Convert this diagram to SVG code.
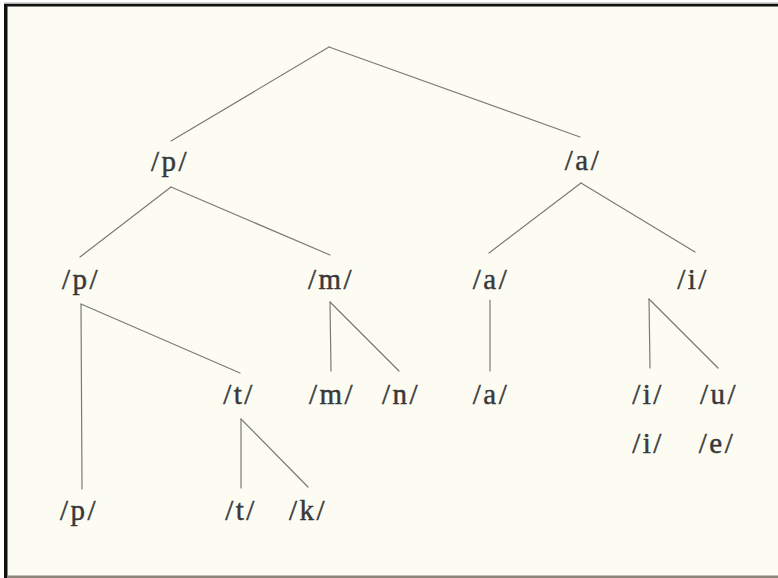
<svg xmlns="http://www.w3.org/2000/svg" width="778" height="578" viewBox="0 0 778 578">
  <style>
    .lbl { font-family: "Liberation Serif", "Times New Roman", serif; font-size: 29px; fill: #383838; stroke: #383838; stroke-width: 0.45; text-anchor: middle; letter-spacing: 2.5px; }
    .edge { stroke: #7a7a7a; stroke-width: 1.2; fill: none; stroke-linecap: round; }
  </style>
  <rect x="0" y="0" width="778" height="578" fill="#ffffff"/>
  <rect x="5" y="5" width="773" height="573" fill="#fcfcf3"/>
  <rect x="4" y="2.5" width="774" height="1.5" fill="#b0b0b0"/>
  <rect x="4" y="4" width="774" height="2.5" fill="#111111"/>
  <rect x="4" y="4" width="3.5" height="574" fill="#111111"/>
  <rect x="7" y="575.5" width="771" height="2.5" fill="#8c8478"/>

  <g id="connectors">
    <line class="edge" x1="329" y1="47" x2="171" y2="141"/>
    <line class="edge" x1="329" y1="47" x2="580" y2="137"/>
    <line class="edge" x1="171" y1="187" x2="80" y2="257"/>
    <line class="edge" x1="171" y1="187" x2="330" y2="255"/>
    <line class="edge" x1="581" y1="183" x2="489" y2="253"/>
    <line class="edge" x1="581" y1="183" x2="695" y2="252"/>
    <line class="edge" x1="81" y1="304" x2="82" y2="489"/>
    <line class="edge" x1="81" y1="304" x2="240" y2="373"/>
    <line class="edge" x1="330" y1="302" x2="331" y2="371"/>
    <line class="edge" x1="330" y1="302" x2="399" y2="371"/>
    <line class="edge" x1="490" y1="300" x2="490" y2="371"/>
    <line class="edge" x1="649" y1="299" x2="650" y2="368"/>
    <line class="edge" x1="649" y1="299" x2="718" y2="368"/>
    <line class="edge" x1="241" y1="419" x2="241" y2="488"/>
    <line class="edge" x1="241" y1="419" x2="308" y2="487"/>
  </g>

  <g id="n-p1"><text class="lbl" x="170" y="171">/p/</text></g>
  <g id="n-a1"><text class="lbl" x="583" y="170">/a/</text></g>
  <g id="n-p2"><text class="lbl" x="81" y="289">/p/</text></g>
  <g id="n-m2"><text class="lbl" x="331" y="289">/m/</text></g>
  <g id="n-a2"><text class="lbl" x="491" y="289">/a/</text></g>
  <g id="n-i2"><text class="lbl" x="693" y="289">/i/</text></g>
  <g id="n-t3"><text class="lbl" x="239" y="404">/t/</text></g>
  <g id="n-m3"><text class="lbl" x="332" y="404">/m/</text></g>
  <g id="n-n3"><text class="lbl" x="401" y="404">/n/</text></g>
  <g id="n-a3"><text class="lbl" x="491" y="404">/a/</text></g>
  <g id="n-i3"><text class="lbl" x="648" y="404">/i/</text></g>
  <g id="n-u3"><text class="lbl" x="719" y="404">/u/</text></g>
  <g id="n-i4"><text class="lbl" x="648" y="453">/i/</text></g>
  <g id="n-e4"><text class="lbl" x="717" y="453">/e/</text></g>
  <g id="n-p4"><text class="lbl" x="79" y="520">/p/</text></g>
  <g id="n-t4"><text class="lbl" x="241" y="520">/t/</text></g>
  <g id="n-k4"><text class="lbl" x="308" y="520">/k/</text></g>
</svg>
